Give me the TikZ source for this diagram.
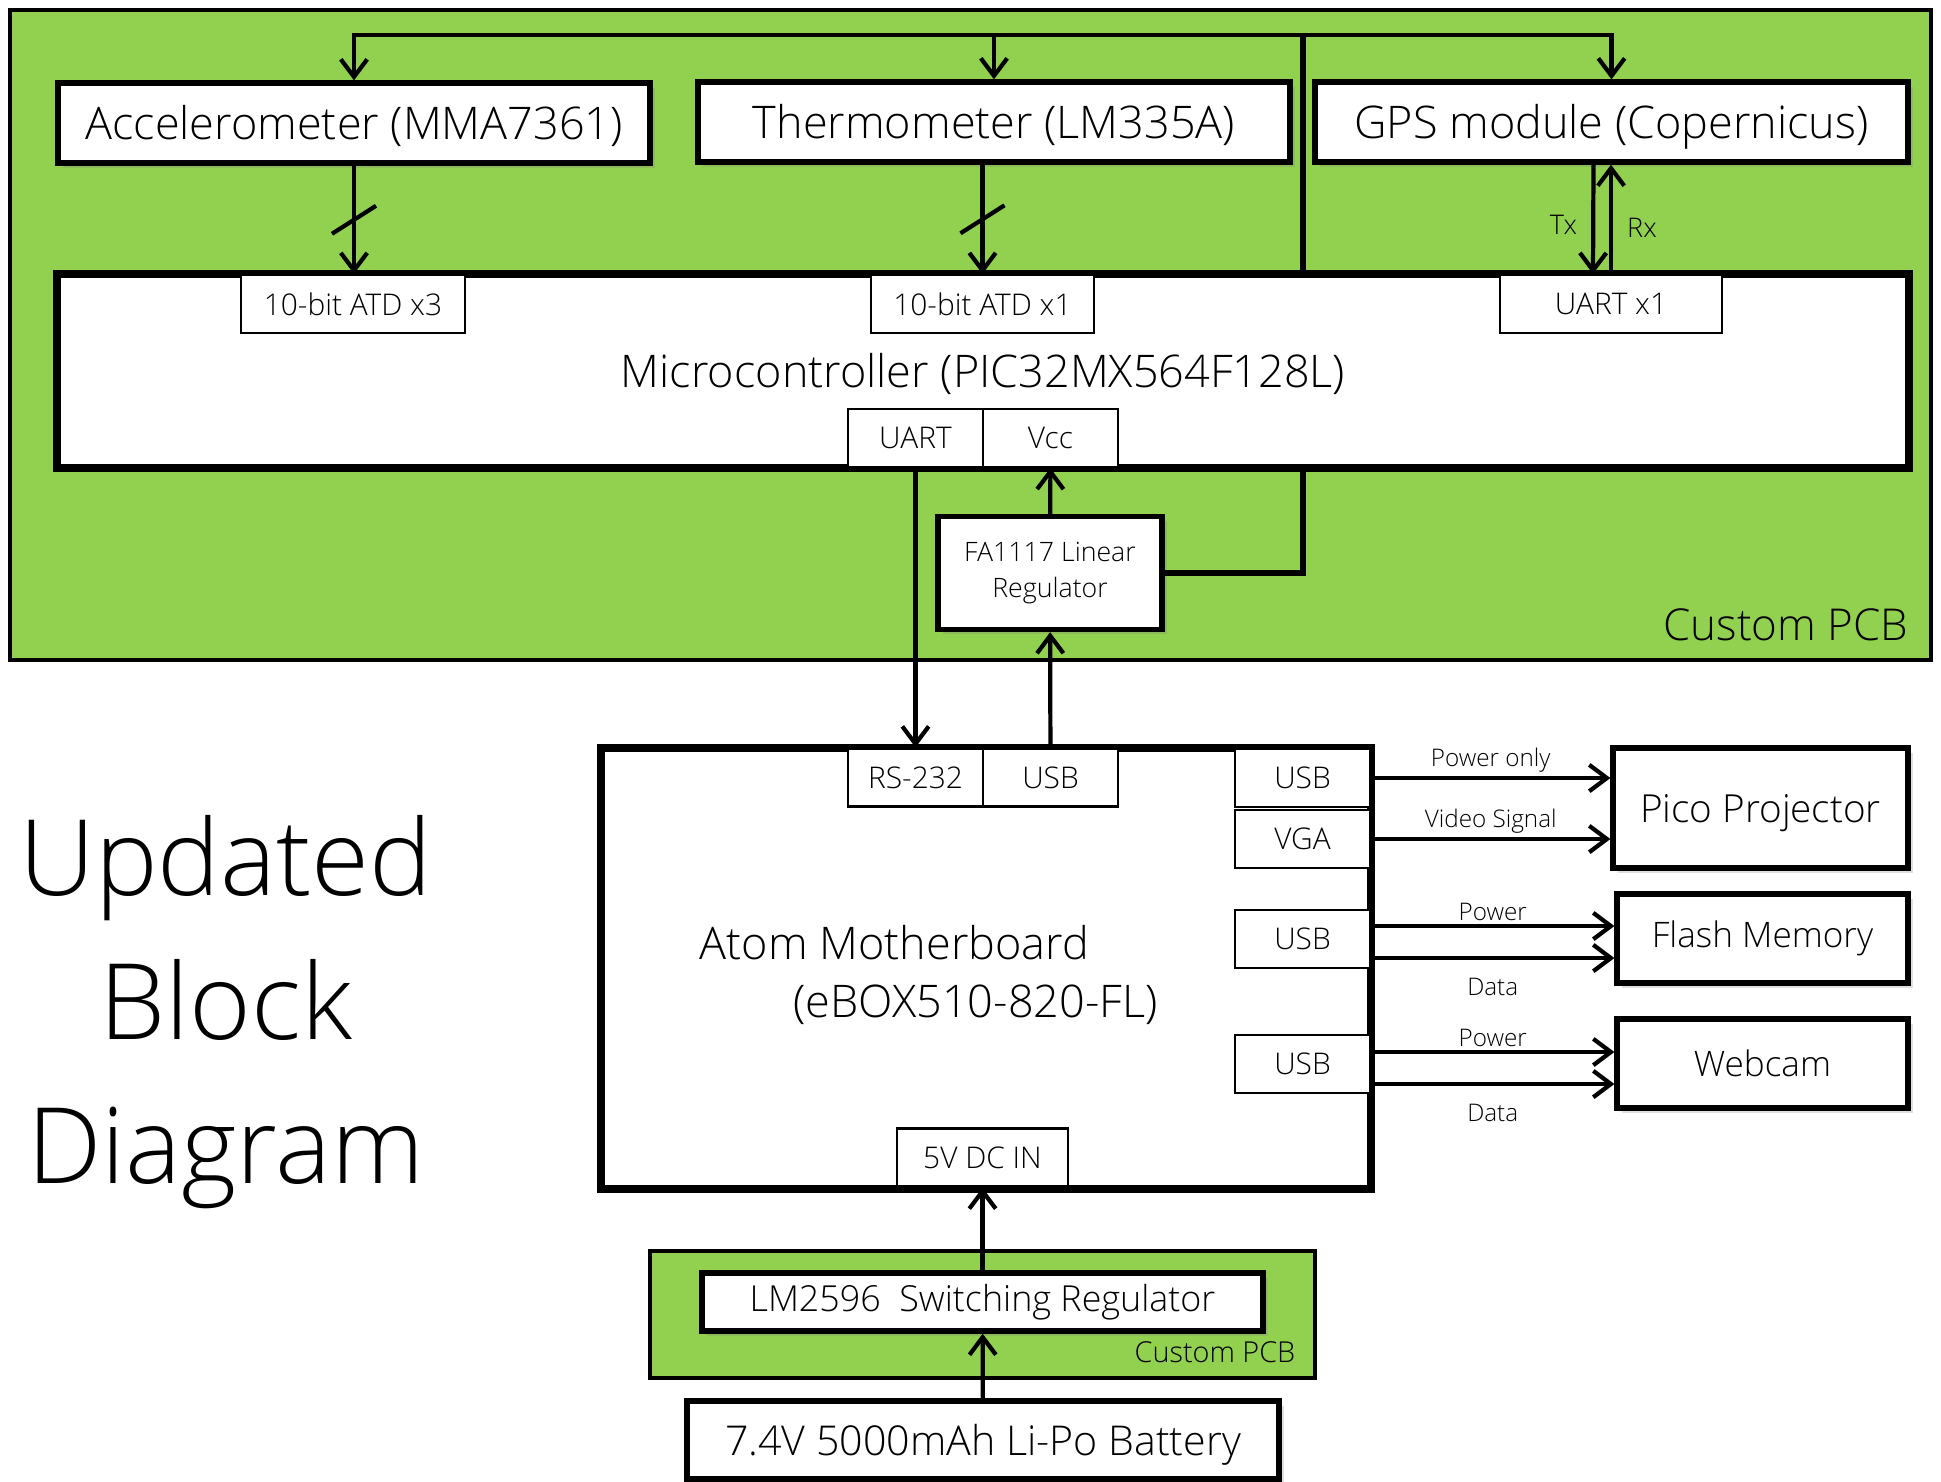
\documentclass[tikz,border=0pt]{standalone}
\usepackage{fontspec}
\setmainfont{Open Sans}[UprightFont=* Light]
\usetikzlibrary{arrows.meta,calc,shadows}
\definecolor{pcbgreen}{RGB}{146,208,80}

\tikzset{
  board/.style={draw, fill=pcbgreen, line width=1.3pt},
  block/.style={draw, fill=white, line width=1.5pt, inner sep=0pt, align=center,
    drop shadow={opacity=0.25, shadow xshift=1.3pt, shadow yshift=-1.3pt}},
  frame/.style={draw, line width=1.5pt},
  port/.style={draw, fill=white, line width=0.6pt, inner sep=0pt, minimum height=5.8mm,
    font=\fontsize{8.5}{10}\selectfont},
  bigtext/.style={font=\fontsize{12.8}{15}\selectfont},
  lowered/.style={text height=11.5pt, text depth=2pt},
  wire/.style={line width=1.2pt},
  arr/.style={wire, -{Straight Barb[length=5pt,width=7.5pt,line width=1.2pt]}},
  lbl/.style={font=\fontsize{6.9}{8}\selectfont, inner sep=1pt},
}

\begin{document}
\begin{tikzpicture}[x=0.1mm,y=-0.1mm]
\useasboundingbox (0,0) rectangle (1941,1481);

% boards
\draw[board] (10,10) rectangle (1931,660);
\draw[board] (650,1251) rectangle (1315,1378);
\node[anchor=base east, inner sep=0pt, font=\fontsize{12.5}{14}\selectfont] (pcbtop) at (1909,640) {Custom PCB};
\node[anchor=base east, inner sep=0pt, font=\fontsize{8.2}{10}\selectfont] (pcbbot) at (1296,1362) {Custom PCB};

% sensors
\node[block, bigtext, lowered, minimum width=59.2mm, minimum height=8mm] (acc) at (354,123) {Accelerometer (MMA7361)};
\node[block, bigtext, lowered, minimum width=59.2mm, minimum height=8mm] (thermo) at (994,122) {Thermometer (LM335A)};
\node[block, bigtext, lowered, minimum width=59.3mm, minimum height=8mm] (gps) at (1611.5,122) {GPS module (Copernicus)};

% microcontroller
\node[block, bigtext, lowered, minimum width=185mm, minimum height=19.2mm] (mcu) at (983,371) {Microcontroller (PIC32MX564F128L)};
\node[port, minimum width=22.4mm] (atdA) at (353,304) {10-bit ATD x3};
\node[port, minimum width=22.3mm] (atdB) at (982.5,304) {10-bit ATD x1};
\node[port, minimum width=22.2mm] (uartB) at (1611,304) {UART x1};
\node[port, minimum width=13.5mm] (uartA) at (915.5,438) {UART};
\node[port, minimum width=13.5mm] (vcc) at (1050.5,438) {Vcc};
\draw[frame] (mcu.north west) rectangle (mcu.south east);

\node[block, minimum width=22.4mm, minimum height=11.3mm, font=\fontsize{7.6}{10.5}\selectfont] (reg) at (1050,573) {FA1117 Linear\\Regulator};

% motherboard
\node[block, minimum width=76.8mm, minimum height=43.9mm] (mb) at (986,968.5) {};
\node[bigtext, anchor=base west, inner sep=0pt] (mbname) at (699,959) {Atom Motherboard};
\node[bigtext, anchor=base west, inner sep=0pt] (mbmodel) at (793,1017) {(eBOX510-820-FL)};
\node[port, minimum width=13.5mm] (rs) at (915.5,777.5) {RS-232};
\node[port, minimum width=13.5mm] (usbA) at (1050.5,777.5) {USB};
\node[port, minimum width=13.5mm] (usbB) at (1302.5,778) {USB};
\node[port, minimum width=13.5mm] (vga) at (1302.5,839) {VGA};
\node[port, minimum width=13.5mm] (usbC) at (1302.5,939) {USB};
\node[port, minimum width=13.5mm] (usbD) at (1302.5,1064) {USB};
\node[port, minimum width=17.1mm] (dcin) at (982.5,1157.5) {5V DC IN};
\draw[frame] (mb.north west) rectangle (mb.south east);

% peripherals
\node[block, font=\fontsize{11}{13}\selectfont, text height=10pt, text depth=1.8pt, minimum width=29.5mm, minimum height=12mm] (pico) at (1760.5,808) {Pico Projector};
\node[block, font=\fontsize{10}{12}\selectfont, minimum width=29.1mm, minimum height=8.9mm] (flash) at (1762.5,938.5) {Flash Memory};
\node[block, font=\fontsize{10}{12}\selectfont, minimum width=29.1mm, minimum height=8.9mm] (cam) at (1762.5,1063.5) {Webcam};

% power
\node[block, font=\fontsize{10.2}{13}\selectfont, minimum width=56.1mm, minimum height=5.8mm] (lm) at (982.5,1302) {LM2596\ \ Switching Regulator};
\node[block, font=\fontsize{11.7}{14}\selectfont, text height=10.5pt, text depth=1.8pt, minimum width=59.2mm, minimum height=7.8mm] (bat) at (983,1440) {7.4V 5000mAh Li-Po Battery};

\node[align=center, font=\fontsize{30}{41}\selectfont] (title) at (226,1012) {Updated\\Block\\Diagram};

% connections
\coordinate (busR) at (1303,35);
\draw[wire, line width=1.6pt] (reg.east) -| (mcu.south -| busR);
\draw[wire, line width=1.6pt] (mcu.north -| busR) -- (busR);
\draw[arr] (busR) -| (acc);
\draw[arr] (busR) -| (gps);
\draw[arr] (thermo.north |- busR) -- (thermo);

\draw[arr] (acc.south) -- (acc.south |- atdA.north);
\draw[wire] ($(acc.south)!.5!(acc.south |- atdA.north)+(-22,14)$) -- ++(44,-28);
\draw[arr] (thermo.south -| atdB) -- (atdB);
\draw[wire] ($(thermo.south -| atdB)!.5!(atdB.north)+(-22,14)$) -- ++(44,-28);

\draw[arr] ($(gps.south)+(-18,0)$) -- ($(uartB.north)+(-18,0)$) node[midway, left=3pt, yshift=-1.5pt, lbl, font=\fontsize{7.7}{9}\selectfont] (tx) {Tx};
\draw[arr] (uartB.north) -- (uartB.north |- gps.south) node[midway, right=3pt, yshift=-2.5pt, lbl, font=\fontsize{7.7}{9}\selectfont] (rx) {Rx};

\draw[arr] (uartA) -- (rs);
\draw[arr] (reg) -- (vcc);
\draw[arr] (usbA) -- (reg);

\draw[arr] (usbB) -- (usbB -| pico.west) node[midway, above=0pt, lbl] (pw1) {Power only};
\draw[arr] (vga) -- (vga -| pico.west) node[midway, above=0pt, lbl] (vid) {Video Signal};
\draw[arr] ($(usbC.east)+(0,-13)$) -- ($(usbC.east -| flash.west)+(0,-13)$) node[midway, above=0pt, lbl] (pw2) {Power};
\draw[arr] ($(usbC.east)+(0,19)$) -- ($(usbC.east -| flash.west)+(0,19)$) node[midway, below=4pt, lbl] (dat2) {Data};
\draw[arr] ($(usbD.east)+(0,-12)$) -- ($(usbD.east -| cam.west)+(0,-12)$) node[midway, above=0pt, lbl] (pw3) {Power};
\draw[arr] ($(usbD.east)+(0,20)$) -- ($(usbD.east -| cam.west)+(0,20)$) node[midway, below=4pt, lbl] (dat3) {Data};

\draw[arr] (lm) -- (dcin);
\draw[arr] (bat) -- (lm);
\end{tikzpicture}
\end{document}
